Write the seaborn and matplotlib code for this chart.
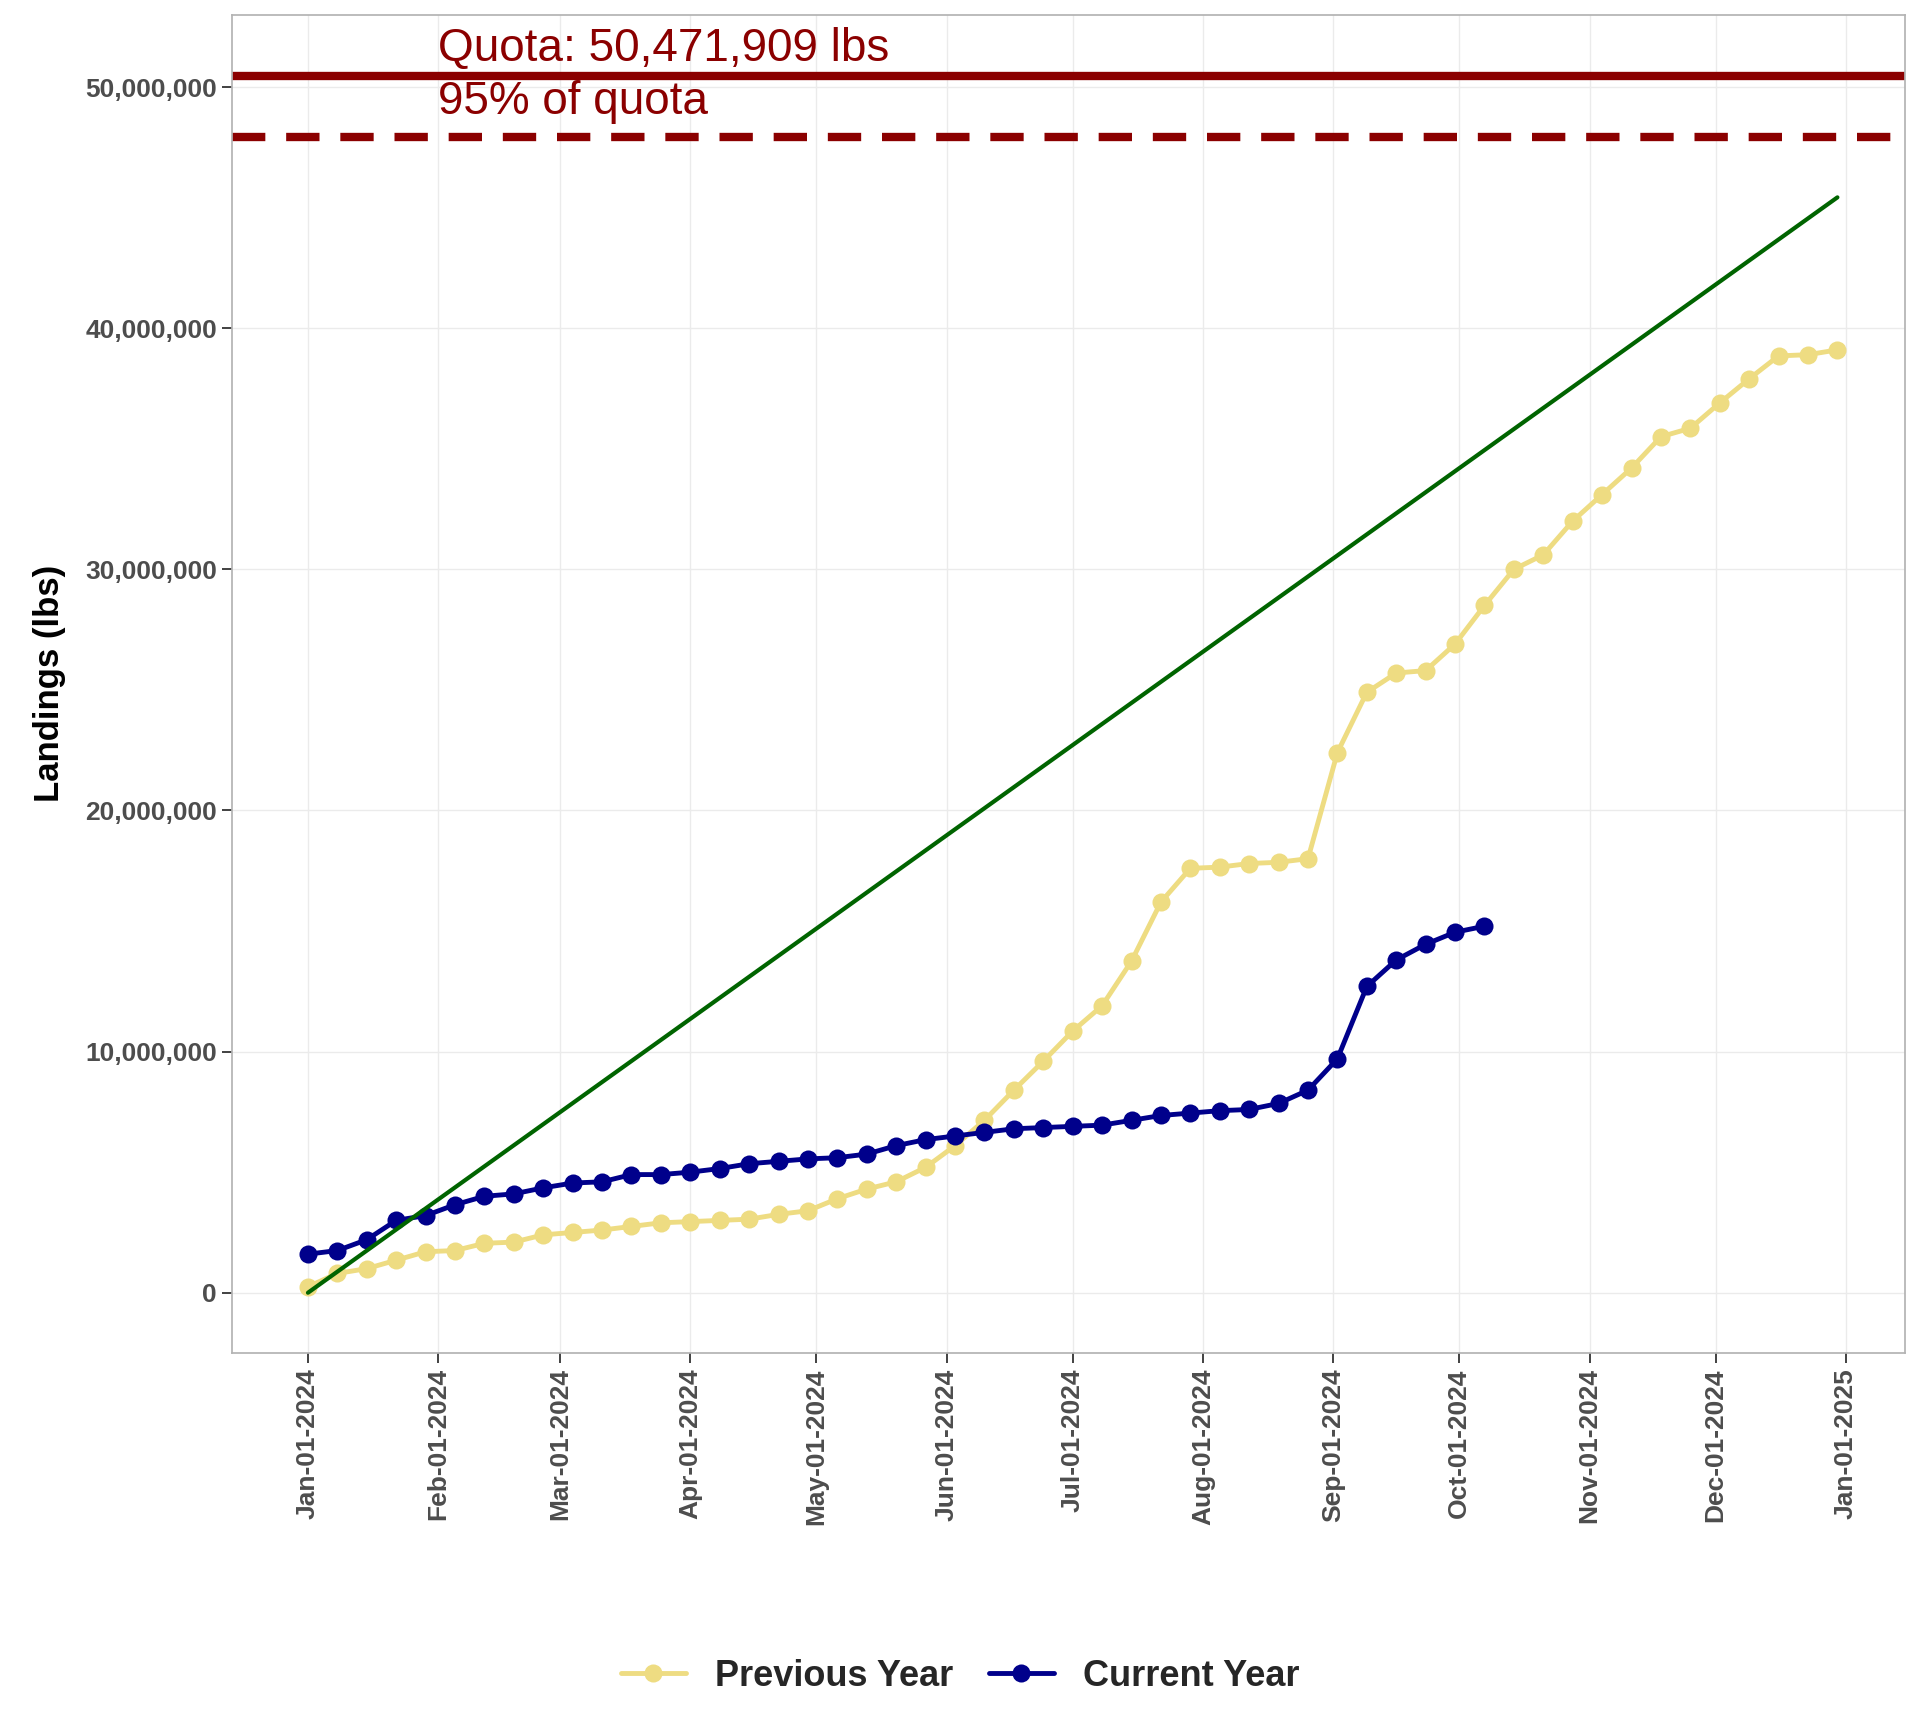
import numpy as np
import pandas as pd
import matplotlib
matplotlib.use("Agg")
import matplotlib.pyplot as plt
import matplotlib.dates as mdates
import seaborn as sns

quota = 50471909
prev_vals = [0.25, 0.8, 1.0, 1.35, 1.7, 1.75, 2.05, 2.1, 2.4, 2.5, 2.6, 2.75, 2.9, 2.95,
             3.0, 3.05, 3.25, 3.4, 3.9, 4.3, 4.6, 5.2, 6.1, 7.15, 8.4, 9.6, 10.85, 11.9,
             13.75, 16.2, 17.6, 17.65, 17.8, 17.85, 18.0, 22.4, 24.9, 25.7, 25.8, 26.9,
             28.5, 30.0, 30.6, 32.0, 33.1, 34.2, 35.5, 35.85, 36.9, 37.9, 38.85, 38.9, 39.1]
curr_vals = [1.6, 1.75, 2.2, 3.0, 3.2, 3.65, 4.0, 4.1, 4.35, 4.55, 4.6, 4.9, 4.9, 5.0,
             5.15, 5.35, 5.45, 5.55, 5.6, 5.75, 6.1, 6.35, 6.5, 6.65, 6.8, 6.85, 6.9,
             6.95, 7.15, 7.35, 7.45, 7.55, 7.6, 7.85, 8.4, 9.7, 12.7, 13.8, 14.45, 14.95, 15.2]

start = pd.Timestamp("2024-01-01")
prev = pd.DataFrame({"date": pd.date_range(start, periods=len(prev_vals), freq="7D"),
                     "lbs": np.array(prev_vals) * 1e6, "series": "Previous Year"})
curr = pd.DataFrame({"date": pd.date_range(start, periods=len(curr_vals), freq="7D"),
                     "lbs": np.array(curr_vals) * 1e6, "series": "Current Year"})
df = pd.concat([prev, curr])

sns.set_theme(style="whitegrid")
plt.rcParams["font.family"] = ["Arial", "Liberation Sans", "DejaVu Sans"]

fig, ax = plt.subplots(figsize=(19.2, 17.28), dpi=100)
fig.subplots_adjust(left=0.121, right=0.992, top=0.9915, bottom=0.217)

sns.lineplot(data=df, x="date", y="lbs", hue="series", marker="o", markersize=13,
             markeredgewidth=0, linewidth=3.5,
             palette={"Previous Year": "#EEDC82", "Current Year": "#00008B"}, ax=ax)

end = prev["date"].iloc[-1]
ax.plot([start, end], [0, 0.9 * quota], color="#006400", linewidth=3)
ax.axhline(quota, color="#8B0000", linewidth=6)
ax.axhline(0.95 * quota, color="#8B0000", linewidth=6, linestyle=(0, (4, 2.5)))
ax.text(pd.Timestamp("2024-02-01"), quota + 0.2e6, f"Quota: {quota:,} lbs",
        color="#8B0000", fontsize=33, va="bottom")
ax.text(pd.Timestamp("2024-02-01"), 0.95 * quota + 0.5e6, "95% of quota",
        color="#8B0000", fontsize=33, va="bottom")

ax.set_xlim(start - pd.Timedelta(days=18), start + pd.Timedelta(days=380))
ax.set_ylim(-2.5e6, 53e6)
ax.xaxis.set_major_locator(mdates.MonthLocator())
ax.xaxis.set_major_formatter(mdates.DateFormatter("%b-%d-%Y"))
ax.yaxis.set_major_formatter(matplotlib.ticker.FuncFormatter(lambda v, p: f"{int(v):,}"))
ax.tick_params(axis="x", rotation=90, labelsize=19, length=7, width=1.3, color="#333333", pad=4)
ax.tick_params(axis="y", labelsize=19, length=7, width=1.3, color="#333333", pad=4)
ax.tick_params(bottom=True, left=True)
for lab in ax.get_xticklabels() + ax.get_yticklabels():
    lab.set_fontweight("bold")
    lab.set_color("#4D4D4D")
ax.set_xlabel("")
ax.set_ylabel("Landings (lbs)", fontsize=25, fontweight="bold", color="black", labelpad=14)
ax.grid(color="#EBEBEB", linewidth=1)
for s in ax.spines.values():
    s.set_color("#B3B3B3")

handles, labels = ax.get_legend_handles_labels()
ax.legend(handles, labels, loc="center", bbox_to_anchor=(0.5, 0.03), bbox_transform=fig.transFigure,
          ncol=2, frameon=False, prop={"size": 26, "weight": "bold"}, handlelength=1.8,
          columnspacing=1.0, handletextpad=0.8)

plt.savefig("out.png")
